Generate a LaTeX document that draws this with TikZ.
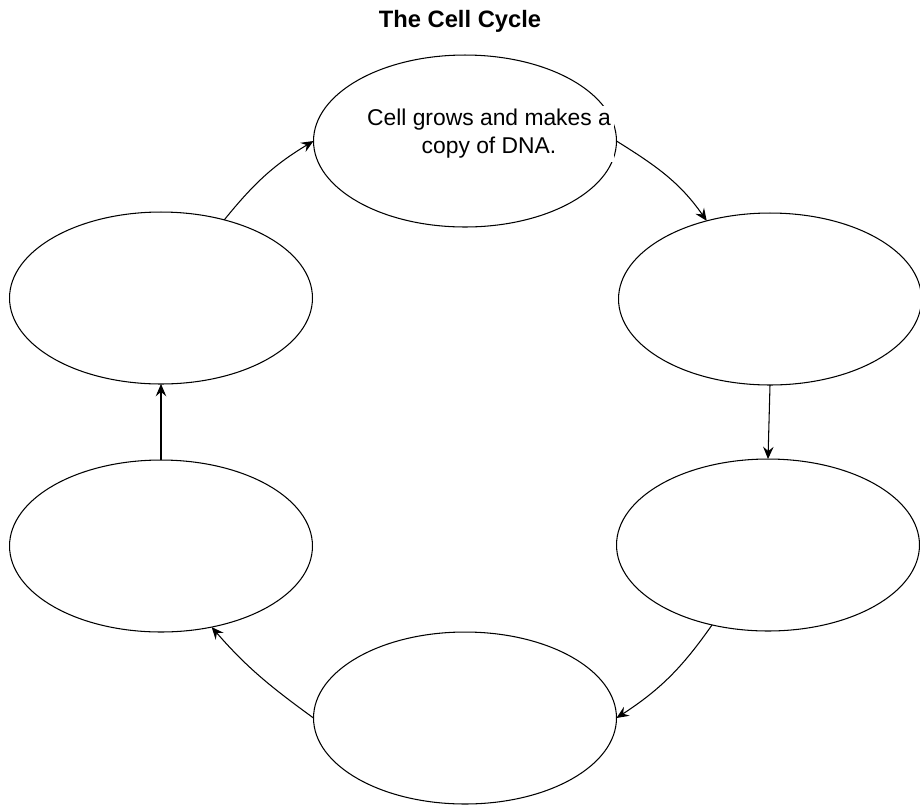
\documentclass[tikz,border=0pt]{standalone}
\usepackage{fontspec}
\setmainfont{Liberation Sans}
\usepackage{tikz}
\usetikzlibrary{shapes}
\usetikzlibrary{arrows.meta}

\begin{document}
\begin{tikzpicture}[x = 0.02cm, y = 0.02cm,
  phase/.style = {draw, ellipse, line width = 0.6pt, inner sep = 0pt, outer sep = 0pt,
                  minimum width = 6.06cm, minimum height = 3.44cm},
  cyc/.style = {line width = 0.6pt, -{Stealth[length = 7pt, width = 6pt, inset = 2.5pt]}}]
\useasboundingbox (0, 0) rectangle (920, -806);
\node[font = \bfseries\fontsize{13.5}{16}\selectfont, anchor = base] (title) at (460, -27) {The Cell Cycle};
\node[phase] (cg) at (465, -141) {};
\node[phase] (ru) at (770, -299) {};
\node[phase] (rl) at (768, -545) {};
\node[phase] (bt) at (465, -718) {};
\node[phase] (ll) at (161, -546) {};
\node[phase] (lu) at (161, -298) {};
\node[align = center, fill = white, inner sep = 2pt, font = \fontsize{13}{15.9}\selectfont] (cgtext) at (489, -134)
     {Cell grows and makes a\\copy of DNA.};
\draw [cyc, out = -32, in = 125] (cg.east) to (ru.129);
\draw [cyc] (ru.south) to (rl.north);
\draw [cyc, out = 235, in = 33] (rl.235) to (bt.east);
\draw [cyc, out = 144, in = -49] (bt.west) to (ll.302);
\draw [cyc] (ll.north) to (lu.south);
\draw [cyc, out = 51, in = 211] (lu.51) to (cg.west);
\end{tikzpicture}
\end{document}
